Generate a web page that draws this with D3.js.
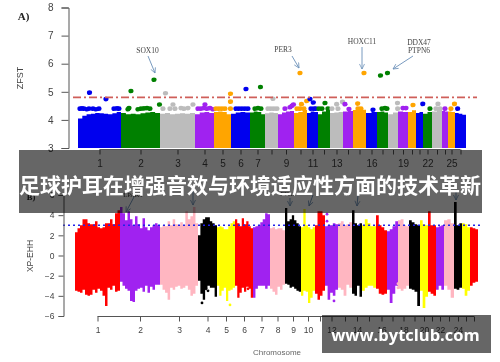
<!DOCTYPE html>
<html>
<head>
<meta charset="utf-8">
<script src="https://cdn.jsdelivr.net/npm/d3@7"></script>
<style>
html, body { margin: 0; padding: 0; background: #fff; overflow: hidden; }
svg { display: block; }
</style>
</head>
<body>
<div id="chart"></div>
<script>
// ---- data. positions are in genome units, about 6.7 Mb each
var zfstSizes = [43,39,35,19,17,19,15,13,16,13,11,12,13,10,13,11,11,10,10,8,7,9,10,6,7,11];
var xpehhSizes = [45,40,38,19,18,18,17,15,16,14,10,13,14,10,14,11,11,11,11,8,8,8,10,8,8,8];

var zfstTickLabels = ["1","2","3","4","5","6","7","","9","","11","","13","","","16","","","19","","","22","","","25",""];
var xpehhTickLabels = ["1","2","3","4","5","6","7","8","9","10","","12","","14","","16","","18","","20","","22","","24","",""];

var zfstTicksY = [3,4,5,6,7,8];
var xpehhTicksY = [-6,-4,-2,0,2,4,6];

var zfstThreshold = 4.8;
var xpehhThreshold = 3;

var zfstColors = ["#0000ee","#008000","#bcbcbc","#a020f0","#ffa500"];
var xpehhColors = ["#ff0000","#a020f0","#ffb6c1","#000000","#ffff00"];

// upper edge of each chromosome in panel A
var zfstTops = [
  [4.05,4.15,4.2,4.22,4.25,4.24,4.22,4.2,4.24,4.28],
  [4.25,4.2,4.22,4.2,4.24,4.26,4.28,4.25],
  [4.22,4.25,4.2,4.22,4.24,4.22,4.25],
  [4.2,4.26,4.28,4.25],
  [4.28,4.3,4.28,4.2],
  [4.22,4.26,4.28,4.26],
  [4.26,4.3,4.28,4.2],
  [4.24,4.26,4.25],
  [4.2,4.26,4.3,4.32],
  [4.25,4.28,4.35],
  [4.25,4.3,4.28],
  [4.2,4.3,4.36],
  [4.25,4.26,4.28],
  [4.3,4.32],
  [4.35,4.38,4.36],
  [4.25,4.28],
  [4.28,4.3,4.26],
  [4.2,4.26],
  [4.3,4.28],
  [4.28,4.34],
  [4.25,4.28],
  [4.22,4.28],
  [4.3,4.35],
  [4.32,4.3],
  [4.3,4.28],
  [4.25,4.22,4.18]
];

// scattered points above the mass: position, value
var zfstHits = [
  [2,4.4],[4,4.41],[6,4.4],[9,4.38],[11,4.4],[11.5,4.97],[15,4.4],[18,4.38],[21,4.4],[28,4.74],[36,4.4],[39,4.41],[41,4.4],
  [50,4.38],[51,4.42],[53,5.03],[60,4.38],[63,4.4],[66,4.41],[69,4.42],[72,4.4],[76,5.43],[81.5,4.55],
  [85,4.4],[87.5,4.95],[92,4.4],[95,4.55],[97,4.4],[103,4.42],[106,4.4],[110,4.42],[115,4.55],
  [120,4.4],[123,4.4],[126,4.42],[127,4.55],[129,4.4],[132,4.42],[135,4.38],
  [138,4.4],[141,4.4],[144,4.4],[147,4.4],[152.5,4.93],[152.5,4.65],[152.5,4.4],
  [158,4.4],[161,4.4],[164,4.4],[167,4.4],[168,5.1],[170,4.4],
  [177,4.4],[180,4.42],[182.5,5.17],[183,4.4],
  [190,4.4],[193,4.4],[195,4.75],[196,4.4],[199,4.4],
  [207,4.4],[212,4.45],[214,4.5],[215.5,4.55],
  [219,4.4],[222,5.67],[222,4.4],[223.5,4.56],[226,4.4],[228.7,4.67],
  [232,4.74],[233,4.4],[235.3,4.62],[236,4.4],[238,4.4],
  [241,4.4],[244,4.4],[247,4.6],[250,4.4],
  [254,4.4],[258.7,4.56],[260,4.4],[264.5,4.64],
  [267,4.56],[271,4.39],
  [279.7,4.58],[280,4.4],[283,4.4],[286,5.67],
  [295,4.36],
  [302.5,5.58],[304,4.4],[307,4.42],[309,4.4],[309.5,5.67],
  [319.5,4.6],[319.7,4.4],
  [325,4.42],[328,4.42],
  [335,4.53],
  [344.8,4.57],
  [352,4.4],
  [358,4.4],[360,4.57],[362,4.4],
  [367,4.4],
  [373,4.4],[376.5,4.57],
  [379.7,4.4]
];

// upper and lower edge of each chromosome in panel B
var xpehhTops = [
  [2.3,2.7,3.0,3.6,3.6,3.2,3.1,3.1,3.4,2.8,2.7,2.8,3.2,3.2,3.6,3.1,4.2,4.5],
  [4.8,4.2,3.5,4.4,3.6,3.0,3.9,3.1,2.7,3.7,2.8,2.5,2.8,3.0,3.2,3.0],
  [2.8,3.0,2.9,3.4,3.0,3.6,3.1,3.0,3.3,3.0,4.4,3.6,3.9,4.8,3.2],
  [2.0,3.2,3.6,3.8,3.8,3.4,3.2,3.0],
  [2.8,2.9,2.8,2.6,2.6,2.9,3.2,3.4],
  [3.6,3.2,2.9,3.7,3.1,3.4,2.9,2.7],
  [2.8,2.9,3.0,3.3,3.6,4.2,4.1],
  [2.7,2.8,2.6,2.7,2.7,2.5],
  [4.7,3.4,3.6,4.0,3.5,3.2,2.9],
  [2.8,4.6,3.0,2.8,2.6,2.8],
  [3.0,4.4,4.4,4.0],
  [2.9,3.0,3.0,3.2,3.1],
  [3.2,3.4,3.0,3.1,3.3],
  [4.5,3.2,3.0,3.2],
  [3.0,3.6,3.2,2.9,2.9],
  [4.0,3.0,2.8,2.5],
  [2.4,2.6,2.9,3.4],
  [3.5,3.6,3.0,2.9],
  [3.5,3.3,3.1,3.0],
  [3.5,3.1,3.0],
  [4.4,3.0,3.0],
  [2.8,2.9,3.0],
  [3.5,3.6,3.2],
  [5.3,3.0,3.2],
  [3.2,3.1,2.8],
  [2.8,2.7,2.6]
];
var xpehhBottoms = [
  [-3.5,-3.6,-3.7,-3.4,-3.9,-4.0,-3.9,-3.4,-3.7,-3.3,-3.5,-4.0,-5.0,-3.2,-3.4,-3.0,-3.6,-3.5],
  [-2.6,-3.0,-3.3,-3.5,-4.5,-4.6,-3.5,-3.3,-3.2,-3.6,-3.0,-3.7,-3.1,-3.4,-2.9,-2.9],
  [-2.9,-3.4,-3.7,-4.4,-3.2,-3.4,-3.1,-3.0,-3.3,-3.2,-3.0,-3.4,-4.0,-3.8,-3.0],
  [-2.5,-3.8,-4.4,-3.3,-3.0,-3.2,-3.2,-4.1],
  [-3.0,-4.0,-3.5,-3.2,-4.5,-3.5,-3.4,-3.2],
  [-3.0,-4.2,-3.7,-3.2,-3.6,-3.1,-3.3,-4.2],
  [-4.2,-3.3,-3.0,-3.0,-3.0,-3.3,-3.0],
  [-3.3,-3.6,-3.9,-3.1,-3.4,-2.9],
  [-2.8,-2.9,-3.2,-3.1,-3.3,-3.5,-3.6],
  [-4.0,-3.5,-3.6,-4.7,-4.2,-3.5],
  [-3.8,-4.4,-4.0,-3.5],
  [-3.0,-4.4,-3.7,-4.0,-3.4],
  [-3.2,-3.4,-4.0,-2.9,-3.2],
  [-3.8,-4.0,-3.0,-4.1],
  [-3.5,-3.2,-3.0,-3.0,-3.2],
  [-3.3,-3.8,-3.9,-3.8],
  [-3.4,-4.7,-3.8,-3.0],
  [-3.3,-3.5,-3.3,-3.0],
  [-3.3,-3.4,-3.6,-5.0],
  [-3.5,-5.2,-4.1],
  [-3.6,-3.8,-4.0],
  [-3.4,-3.0,-3.4],
  [-3.0,-3.4,-4.2],
  [-3.3,-3.4,-3.2],
  [-3.3,-4.0,-3.5],
  [-3.0,-2.7,-2.6]
];
var xpehhHits = [
  [127,-4.7],[131,-3.3],[133,-3.5],[155,-4.9],[173,-3.3],[252,4.1],[252,3.4],[259,-4.5],[323,-2.8],[323,-3.2]
];

var bannerTitle = "足球护耳在增强音效与环境适应性方面的技术革新";
var watermark = "www.bytclub.com";

// ---- layout
var width = 500,
    height = 362;

var svg = d3.select("#chart")
    .append("svg")
    .attr("width", width)
    .attr("height", height);

var defs = svg.append("defs");
defs.append("filter").attr("id", "soft").attr("x", "-5%").attr("y", "-5%").attr("width", "110%").attr("height", "110%")
    .append("feGaussianBlur").attr("stdDeviation", 0.7);
defs.append("filter").attr("id", "softer").attr("x", "-5%").attr("y", "-5%").attr("width", "110%").attr("height", "110%")
    .append("feGaussianBlur").attr("stdDeviation", 0.3);
var marker = defs.append("marker").attr("id", "head").attr("viewBox", "0 0 10 10")
    .attr("refX", 9).attr("refY", 5).attr("markerWidth", 7).attr("markerHeight", 7).attr("orient", "auto");
marker.append("path").attr("d", "M1,1L9,5L1,9").attr("fill", "none").attr("stroke", "#6a8fb8").attr("stroke-width", 1.2);

var chart = svg.append("g").attr("filter", "url(#soft)");

function chromStarts(sizes) {
    return [0].concat(Array.from(d3.cumsum(sizes)));
}

function drawPanel(o) {
    var starts = chromStarts(o.sizes);
    var x = d3.scaleLinear().domain([0, d3.sum(o.sizes)]).range(o.xRange);
    var y = d3.scaleLinear().domain(o.yDomain).range(o.yRange);
    var g = chart.append("g");

    var area = d3.area()
        .curve(d3.curveStepAfter)
        .x(function (d) { return x(d.g); })
        .y0(function (d) { return y(d.bottom); })
        .y1(function (d) { return y(d.top); });

    o.sizes.forEach(function (size, i) {
        var tops = o.tops[i];
        var pts = tops.map(function (v, j) {
            return {
                g: starts[i] + size * j / tops.length,
                top: v,
                bottom: o.bottoms ? o.bottoms[i][j] : o.yDomain[0]
            };
        });
        var last = pts[pts.length - 1];
        pts.push({ g: starts[i] + size, top: last.top, bottom: last.bottom });
        g.append("path")
            .attr("d", area(pts))
            .attr("fill", o.colors[i % o.colors.length]);
    });

    g.selectAll("ellipse")
        .data(o.hits)
        .enter().append("ellipse")
        .attr("cx", function (d) { return x(d[0]); })
        .attr("cy", function (d) { return y(d[1]); })
        .attr("rx", o.rx)
        .attr("ry", o.ry)
        .attr("fill", function (d) {
            var i = d3.bisectRight(starts, d[0]) - 1;
            return o.colors[i % o.colors.length];
        });

    // threshold
    g.append("line")
        .attr("x1", o.lineX[0]).attr("x2", o.lineX[1])
        .attr("y1", y(o.threshold)).attr("y2", y(o.threshold))
        .attr("stroke", o.lineColor)
        .attr("stroke-width", o.lineWidth)
        .attr("stroke-dasharray", o.lineDash);

    // axes
    var yAxis = g.append("g")
        .attr("transform", "translate(" + o.axisX + ",0)")
        .call(d3.axisLeft(y).tickValues(o.ticksY).tickFormat(d3.format("d")).tickSize(o.yTick).tickPadding(o.yPad));

    var mids = o.sizes.map(function (s, i) { return starts[i] + s / 2; });
    var xAxis = g.append("g")
        .attr("transform", "translate(0," + o.axisY + ")")
        .call(d3.axisBottom(x).tickValues(mids)
            .tickFormat(function (d, i) { return o.labels[i]; })
            .tickSize(5).tickPadding(o.xPad).tickSizeOuter(0));
    xAxis.select(".domain").attr("d", "M" + x(mids[0]) + ",0H" + x(mids[mids.length - 1]));

    [yAxis, xAxis].forEach(function (a) {
        a.selectAll("path,line").attr("stroke", "#555");
        a.selectAll("text").attr("fill", "#444")
            .attr("font-family", "Liberation Sans, Arial, sans-serif")
            .attr("font-size", o.tickFont);
    });
    return g;
}

drawPanel({
    sizes: zfstSizes, tops: zfstTops, hits: zfstHits, colors: zfstColors, labels: zfstTickLabels,
    ticksY: zfstTicksY, threshold: zfstThreshold,
    xRange: [78, 466], yDomain: [3, 8], yRange: [148, 7.5],
    rx: 2.6, ry: 2.3,
    lineX: [73, 477], lineColor: "#cf5f5a", lineWidth: 1.6, lineDash: "8,3,2,3",
    axisX: 68.5, axisY: 149.5, xPad: 5, tickFont: 10, yTick: 7, yPad: 8
});

drawPanel({
    sizes: xpehhSizes, tops: xpehhTops, bottoms: xpehhBottoms, hits: xpehhHits, colors: xpehhColors, labels: xpehhTickLabels,
    ticksY: xpehhTicksY, threshold: xpehhThreshold,
    xRange: [75, 478], yDomain: [-6, 6], yRange: [316, 195],
    rx: 1.4, ry: 1.4,
    lineX: [63, 480], lineColor: "#2020e8", lineWidth: 1.6, lineDash: "2,3",
    axisX: 63.5, axisY: 316.5, xPad: 5, tickFont: 8.5, yTick: 5, yPad: 4
});

// ---- titles and gene notes
var notes = chart.append("g");

function addText(txt, px, py, size, family, fill, weight, rotate) {
    return notes.append("text").text(txt)
        .attr("transform", "translate(" + px + "," + py + ")" + (rotate ? " rotate(-90)" : ""))
        .attr("text-anchor", "middle")
        .attr("font-family", family)
        .attr("font-size", size)
        .attr("font-weight", weight || "normal")
        .attr("fill", fill);
}
var sans = "Liberation Sans, Arial, sans-serif",
    serif = "Liberation Serif, serif";

addText("A)", 23.5, 20, 11, serif, "#222", "bold");
addText("B)", 31, 200, 8.5, serif, "#222", "bold");
addText("ZFST", 22.5, 78, 9, sans, "#444", "normal", true);
addText("XP-EHH", 32.5, 256, 8.5, sans, "#444", "normal", true);
addText("Chromosome", 277, 355, 8, sans, "#666");

addText("SOX10", 147.5, 53, 7.5, serif, "#444");
addText("PER3", 283, 52, 7.5, serif, "#444");
addText("HOXC11", 362, 44, 7.5, serif, "#444");
addText("DDX47", 419, 45, 7.5, serif, "#444");
addText("PTPN6", 419, 53, 7.5, serif, "#444");
addText("LPAK1", 133, 197, 6.5, serif, "#333");
addText("PTK2", 288, 196, 6.5, serif, "#333");

var arrows = [
    [148, 56, 155, 73], [292, 56, 299, 68], [362, 47, 362, 69], [413, 56, 393, 69],
    [134, 197, 126, 212], [193, 190, 193, 205], [290, 198, 290, 206],
    [313, 195, 309, 206], [358, 195, 357, 206], [456, 190, 456, 200]
];
notes.selectAll("line.arrow")
    .data(arrows)
    .enter().append("line")
    .attr("class", "arrow")
    .attr("x1", function (d) { return d[0]; })
    .attr("y1", function (d) { return d[1]; })
    .attr("x2", function (d) { return d[2]; })
    .attr("y2", function (d) { return d[3]; })
    .attr("stroke", "#6a8fb8")
    .attr("stroke-width", 0.9)
    .attr("marker-end", "url(#head)");

// ---- page overlays
var cover = svg.append("g").attr("filter", "url(#softer)");

cover.append("rect")
    .attr("x", 19).attr("y", 150).attr("width", 463).attr("height", 63)
    .attr("fill", "#000").attr("fill-opacity", 0.6);
cover.append("text").text(bannerTitle)
    .attr("x", 250).attr("y", 193)
    .attr("text-anchor", "middle")
    .attr("font-family", "Noto Sans CJK SC")
    .attr("font-weight", 700)
    .attr("font-size", 21)
    .attr("fill", "#fff");

cover.append("rect")
    .attr("x", 322).attr("y", 315).attr("width", 169).attr("height", 38)
    .attr("fill", "#000").attr("fill-opacity", 0.6);
cover.append("text").text(watermark)
    .attr("x", 405.5).attr("y", 341)
    .attr("text-anchor", "middle")
    .attr("font-family", "Open Sans")
    .attr("font-weight", 700)
    .attr("font-size", 16.5)
    .attr("fill", "#fff");
</script>
</body>
</html>
